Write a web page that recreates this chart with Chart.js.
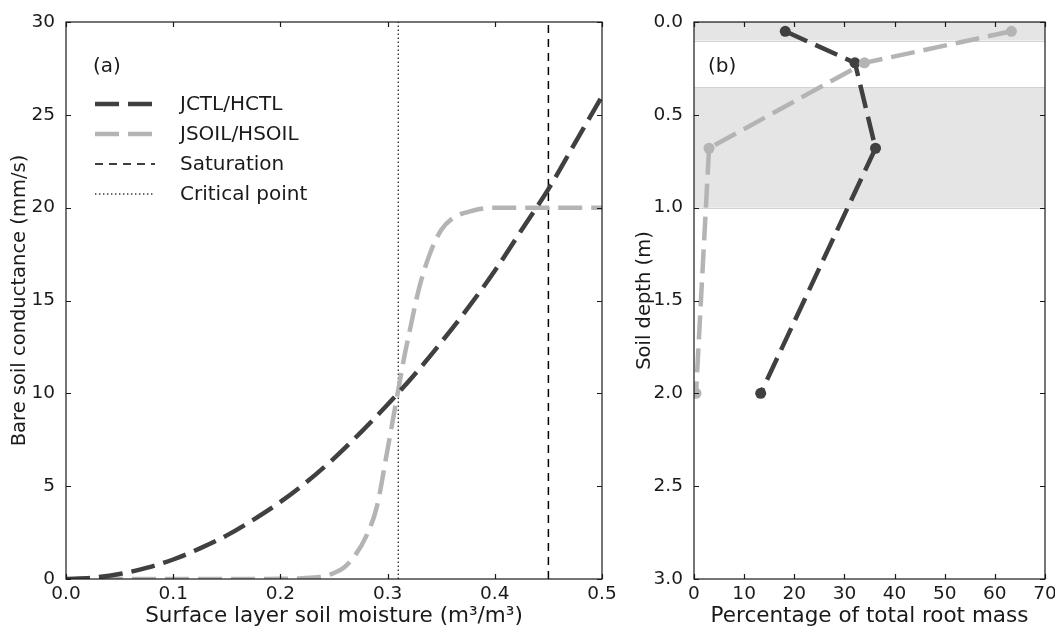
<!DOCTYPE html>
<html>
<head>
<meta charset="utf-8">
<script src="https://cdn.jsdelivr.net/npm/chart.js@4.4.1/dist/chart.umd.min.js"></script>
<style>
  html, body { margin: 0; padding: 0; background: #fff; }
  #wrap { position: relative; width: 1055px; height: 629px; overflow: hidden; }
  #wrap canvas { position: absolute; top: 0; }
  #left { left: 0; }
  #right { left: 623px; }
</style>
</head>
<body>
<div id="wrap">
  <canvas id="left" width="623" height="629"></canvas>
  <canvas id="right" width="432" height="629"></canvas>
</div>
<script>
// panel (a): bare soil conductance vs surface soil moisture
const moistureCtl = [0, 0.025, 0.05, 0.075, 0.1, 0.125, 0.15, 0.175, 0.2, 0.225, 0.25,
  0.275, 0.3, 0.325, 0.35, 0.375, 0.4, 0.425, 0.45, 0.475, 0.5];
const conductCtl = [0, 0.07, 0.27, 0.6, 1.05, 1.65, 2.35, 3.2, 4.15, 5.25, 6.5,
  7.9, 9.4, 11.0, 12.75, 14.6, 16.6, 18.8, 21.0, 23.5, 26.0];

const moistureSoil = [0, 0.05, 0.1, 0.15, 0.2, 0.22, 0.24, 0.25, 0.26, 0.27, 0.28, 0.29,
  0.3, 0.305, 0.31, 0.315, 0.32, 0.33, 0.34, 0.35, 0.36, 0.38, 0.4, 0.45, 0.5];
const conductSoil = [0, 0, 0, 0, 0.01, 0.04, 0.15, 0.32, 0.65, 1.3, 2.3, 3.9,
  7.0, 8.6, 10.2, 11.8, 13.2, 15.8, 17.6, 18.8, 19.4, 19.85, 20, 20, 20];

const saturationPoint = 0.45;
const criticalPoint = 0.31;
const conductRange = [0, 30];

// panel (b): root mass profile
const rootDepth = [0.05, 0.22, 0.68, 2.0];
const rootCtl = [18.2, 32.1, 36.2, 13.3];
const rootSoil = [63.3, 34.0, 3.0, 0.4];
const soilLayers = [[0, 0.1], [0.35, 1.0]];

const darkGrey = '#404040';
const lightGrey = '#b4b4b4';
const inkColor = '#1a1a1a';

Chart.defaults.font.family = '"DejaVu Sans", sans-serif';
Chart.defaults.font.size = 18.5;
Chart.defaults.color = inkColor;

const toXY = (xs, ys) => xs.map((v, i) => ({ x: v, y: ys[i] }));

// frame on four sides with ticks pointing inwards
const frameTicks = {
  id: 'frameTicks',
  afterDraw(chart) {
    const { ctx, chartArea: a, scales: { x, y } } = chart;
    const len = 5;
    ctx.save();
    ctx.strokeStyle = inkColor;
    ctx.lineWidth = 1.2;
    ctx.strokeRect(a.left, a.top, a.width, a.height);
    ctx.beginPath();
    x.ticks.forEach(t => {
      const px = Math.round(x.getPixelForValue(t.value)) + 0.5;
      ctx.moveTo(px, a.bottom); ctx.lineTo(px, a.bottom - len);
      ctx.moveTo(px, a.top); ctx.lineTo(px, a.top + len);
    });
    y.ticks.forEach(t => {
      const py = Math.round(y.getPixelForValue(t.value)) + 0.5;
      ctx.moveTo(a.left, py); ctx.lineTo(a.left + len, py);
      ctx.moveTo(a.right, py); ctx.lineTo(a.right - len, py);
    });
    ctx.stroke();
    ctx.restore();
  }
};

// "(a)" / "(b)" tag
const panelTag = {
  id: 'panelTag',
  afterDraw(chart, args, opts) {
    const { ctx, chartArea: a } = chart;
    ctx.save();
    ctx.font = '20px "DejaVu Sans"';
    ctx.fillStyle = inkColor;
    ctx.textBaseline = 'middle';
    ctx.fillText(opts.text, a.left + opts.dx, a.top + opts.dy);
    ctx.restore();
  }
};

// legend drawn inside the plot area
const insideLegend = {
  id: 'insideLegend',
  afterDraw(chart, args, opts) {
    if (!opts.show) return;
    const { ctx, chartArea: a } = chart;
    ctx.save();
    ctx.font = '20px "DejaVu Sans"';
    ctx.textBaseline = 'middle';
    chart.data.datasets.forEach((ds, i) => {
      const y = a.top + opts.dy + i * opts.rowGap;
      const x0 = a.left + opts.dx;
      ctx.strokeStyle = ds.borderColor;
      ctx.lineWidth = ds.borderWidth;
      ctx.setLineDash(ds.borderDash || []);
      ctx.beginPath();
      ctx.moveTo(x0, y);
      ctx.lineTo(x0 + 60, y);
      ctx.stroke();
      ctx.setLineDash([]);
      ctx.fillStyle = inkColor;
      ctx.fillText(ds.label, x0 + 85, y + 1);
    });
    ctx.restore();
  }
};

// shaded soil layers in panel (b)
const layerBandsPlugin = {
  id: 'layerBands',
  beforeDatasetsDraw(chart, args, opts) {
    if (!opts.bands) return;
    const { ctx, chartArea: a, scales: { y } } = chart;
    ctx.save();
    opts.bands.forEach(([d0, d1]) => {
      const top = y.getPixelForValue(d0);
      const bot = y.getPixelForValue(d1);
      ctx.fillStyle = '#e5e5e5';
      ctx.fillRect(a.left, top, a.width, bot - top);
      ctx.strokeStyle = '#d2d2d2';
      ctx.lineWidth = 1;
      ctx.beginPath();
      ctx.moveTo(a.left, Math.round(top) + 0.5); ctx.lineTo(a.right, Math.round(top) + 0.5);
      ctx.moveTo(a.left, Math.round(bot) + 0.5); ctx.lineTo(a.right, Math.round(bot) + 0.5);
      ctx.stroke();
    });
    ctx.restore();
  }
};

function axisOpts(min, max, step, title, titleSize, titlePad, tickPad, fmt, extra) {
  return Object.assign({
    type: 'linear',
    min: min,
    max: max,
    grid: { display: false },
    border: { display: false },
    ticks: { stepSize: step, padding: tickPad, color: inkColor, callback: fmt, maxRotation: 0, autoSkip: false },
    title: { display: true, text: title, color: inkColor, font: { size: titleSize }, padding: { top: titlePad, bottom: 0 } }
  }, extra || {});
}

const baseOptions = {
  responsive: false,
  animation: false,
  devicePixelRatio: 1,
  plugins: { legend: { display: false }, tooltip: { enabled: false } }
};

new Chart(document.getElementById('left'), {
  type: 'scatter',
  data: {
    datasets: [
      {
        label: 'JCTL/HCTL',
        data: toXY(moistureCtl, conductCtl),
        showLine: true, pointRadius: 0,
        borderColor: darkGrey, borderWidth: 4.5, borderDash: [24, 9],
        cubicInterpolationMode: 'monotone'
      },
      {
        label: 'JSOIL/HSOIL',
        data: toXY(moistureSoil, conductSoil),
        showLine: true, pointRadius: 0,
        borderColor: lightGrey, borderWidth: 4.5, borderDash: [24, 9],
        cubicInterpolationMode: 'monotone'
      },
      {
        label: 'Saturation',
        data: toXY([saturationPoint, saturationPoint], conductRange),
        showLine: true, pointRadius: 0,
        borderColor: '#000', borderWidth: 1.5, borderDash: [8, 6]
      },
      {
        label: 'Critical point',
        data: toXY([criticalPoint, criticalPoint], conductRange),
        showLine: true, pointRadius: 0,
        borderColor: '#333', borderWidth: 1.4, borderDash: [1.4, 2.6]
      }
    ]
  },
  options: Object.assign({}, baseOptions, {
    layout: { padding: { top: 22, right: 21, bottom: 0, left: 0 } },
    scales: {
      x: axisOpts(0, 0.5, 0.1, 'Surface layer soil moisture (m³/m³)', 21.5, 0, -4, v => v.toFixed(1),
        { afterFit: s => { s.height = 50; } }),
      y: axisOpts(0, 30, 5, 'Bare soil conductance (mm/s)', 19.5, 8, 3, v => v.toFixed(0),
        { afterFit: s => { s.width = 66; } })
    },
    plugins: Object.assign({}, baseOptions.plugins, {
      panelTag: { text: '(a)', dx: 27, dy: 45 },
      insideLegend: { show: true, dx: 29, dy: 82, rowGap: 30 }
    })
  }),
  plugins: [layerBandsPlugin, frameTicks, panelTag, insideLegend]
});

new Chart(document.getElementById('right'), {
  type: 'scatter',
  data: {
    datasets: [
      {
        label: 'JCTL/HCTL',
        data: toXY(rootCtl, rootDepth),
        showLine: true, pointRadius: 5.5, pointBackgroundColor: darkGrey, pointBorderWidth: 0,
        borderColor: darkGrey, borderWidth: 4.5, borderDash: [24, 9], order: 1
      },
      {
        label: 'JSOIL/HSOIL',
        data: toXY(rootSoil, rootDepth),
        showLine: true, pointRadius: 5.5, pointBackgroundColor: lightGrey, pointBorderWidth: 0,
        borderColor: lightGrey, borderWidth: 4.5, borderDash: [24, 9], order: 0
      }
    ]
  },
  options: Object.assign({}, baseOptions, {
    layout: { padding: { top: 22, right: 10, bottom: 0, left: 0 } },
    scales: {
      x: axisOpts(0, 70, 10, 'Percentage of total root mass', 21.5, 0, -4, v => v.toFixed(0),
        { afterFit: s => { s.height = 50; } }),
      y: axisOpts(0, 3, 0.5, 'Soil depth (m)', 19.5, 10, 3, v => v.toFixed(1),
        { reverse: true, afterFit: s => { s.width = 71; } })
    },
    plugins: Object.assign({}, baseOptions.plugins, {
      layerBands: { bands: soilLayers },
      panelTag: { text: '(b)', dx: 14, dy: 45 },
      insideLegend: { show: false }
    })
  }),
  plugins: [layerBandsPlugin, frameTicks, panelTag, insideLegend]
});
</script>
</body>
</html>
